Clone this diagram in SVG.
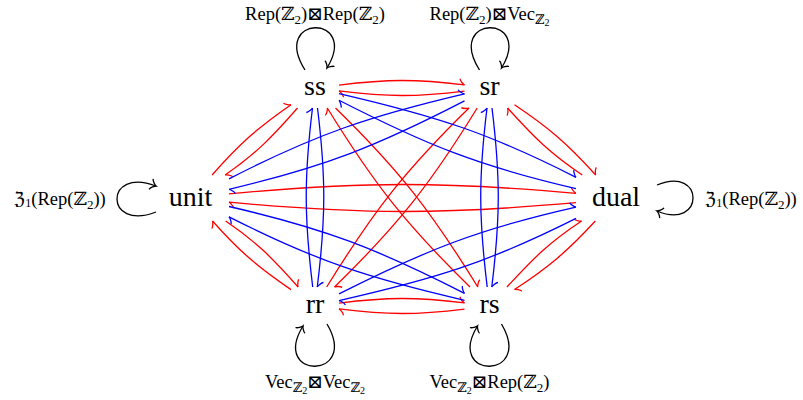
<svg xmlns="http://www.w3.org/2000/svg" width="803" height="400" viewBox="0 0 803 400">
<style>
.e{fill:none;stroke-width:1.3}
.r{stroke:#ff0000;marker-end:url(#hr)}
.b{stroke:#0000ff;marker-end:url(#hb)}
.lp{fill:none;stroke:#000;stroke-width:1.3;marker-end:url(#ak)}
.n{font-family:"Liberation Serif","DejaVu Serif",serif;font-size:28px;text-anchor:middle;fill:#000}
.l{font-family:"Liberation Serif","DejaVu Serif",serif;font-size:18.5px;text-anchor:middle;fill:#000}
</style>
<defs>
<marker id="hr" markerUnits="userSpaceOnUse" orient="auto" refX="0" refY="0" markerWidth="14" markerHeight="14" viewBox="-7 -7 14 14" overflow="visible"><path d="M-5.2,-5.6 C-4.9,-3.5 -1,-0.3 0,0" fill="none" stroke="#ff0000" stroke-width="1.3"/></marker>
<marker id="hb" markerUnits="userSpaceOnUse" orient="auto" refX="0" refY="0" markerWidth="14" markerHeight="14" viewBox="-7 -7 14 14" overflow="visible"><path d="M-5.2,-5.6 C-4.9,-3.5 -1,-0.3 0,0" fill="none" stroke="#0000ff" stroke-width="1.3"/></marker>
<marker id="ak" markerUnits="userSpaceOnUse" orient="auto" refX="0" refY="0" markerWidth="14" markerHeight="14" viewBox="-7 -7 14 14" overflow="visible"><path d="M-5.2,-5.6 C-4.9,-3.5 -1,-0.3 0,0 C-1,0.3 -4.9,3.5 -5.2,5.6" fill="none" stroke="#000" stroke-width="1.3"/></marker>
</defs>
<rect width="803" height="400" fill="#fff"/>
<g id="connectors">
<path class="e r" d="M339,85.05 C387.7,79.07 415.8,78.95 464.5,84.93"/>
<path class="e r" d="M464.5,91.07 C415.8,97.05 387.7,96.93 339,90.95"/>
<path class="e r" d="M297.5,108 C272.1,137.05 256.8,152.97 225.1,175"/>
<path class="e r" d="M212.1,175 C239.4,143.84 257,128.33 291,104.7"/>
<path class="e r" d="M335.5,108 C399.5,170.5 430.8,210.8 477.8,287"/>
<path class="e r" d="M470,287 C405.9,224.4 374.3,184.3 327.3,108"/>
<path class="e r" d="M514.5,104.8 C549.4,128.2 567.5,143.8 595.7,175"/>
<path class="e r" d="M582.3,175 C549.7,153.1 534,137.2 507.6,108"/>
<path class="e r" d="M477.2,108 C430.2,184.3 398.6,224.4 334.5,287"/>
<path class="e r" d="M326.7,287 C373.7,210.8 405,170.5 469,108"/>
<path class="e r" d="M229,193.8 C363.8,181.5 441.2,181.5 576,193.3"/>
<path class="e r" d="M576,202.7 C441.2,214.5 363.8,214.5 229,202.2"/>
<path class="e r" d="M225.7,221 C257.4,242.6 272.5,258.3 298.1,287"/>
<path class="e r" d="M291,289.6 C257.3,266.6 239.6,251.5 212.5,221"/>
<path class="e r" d="M339,303.05 C387.7,297.07 415.8,296.95 464.5,302.93"/>
<path class="e r" d="M464.5,309.07 C415.8,315.05 387.7,314.93 339,308.95"/>
<path class="e r" d="M507,287 C533.4,258.3 549,242.5 581.6,221"/>
<path class="e r" d="M595.3,221 C567.2,251.5 549.2,266.7 514.5,289.5"/>
<path class="e b" d="M317.5,108 C326,177.6 325.8,217.4 317.3,287"/>
<path class="e b" d="M312.7,287 C304.2,217.4 304,177.6 312.5,108"/>
<path class="e b" d="M339,93.56 C434.9,115.8 488.4,132.6 576,177.3"/>
<path class="e b" d="M576,188.6 C479.5,166.3 427.2,145.3 339,100.25"/>
<path class="e b" d="M492,108 C500.5,177.6 500.3,217.4 491.8,287"/>
<path class="e b" d="M487.2,287 C478.7,217.4 478.5,177.6 487,108"/>
<path class="e b" d="M464.5,100.9 C377,146.1 324.9,166.7 229,189.3"/>
<path class="e b" d="M229,178.9 C316.1,134 369.1,116.4 464.5,93.9"/>
<path class="e b" d="M229,206.5 C324.8,228.5 376.9,248.7 464.5,293.3"/>
<path class="e b" d="M464.5,300.3 C369.2,278.4 316.2,261.1 229,216.8"/>
<path class="e b" d="M339,293.9 C427.2,249.5 479.6,228.8 576,207.1"/>
<path class="e b" d="M576,218.4 C488.3,262.5 434.8,279 339,300.6"/>
<g id="loops">
<path class="lp" d="M305,70 C270,14 360,14 327,68"/>
<text class="l" x="315" y="20">Rep(ℤ<tspan dy="4" font-size="13">2</tspan><tspan dy="-4">)⊠Rep(ℤ</tspan><tspan dy="4" font-size="13">2</tspan><tspan dy="-4">)</tspan></text>
<path class="lp" d="M479.5,70 C444.5,14 534.5,14 501.5,68"/>
<text class="l" x="489.5" y="20">Rep(ℤ<tspan dy="4" font-size="13">2</tspan><tspan dy="-4">)⊠Vec</tspan><tspan dy="4" font-size="13">ℤ</tspan><tspan dy="2" font-size="10">2</tspan></text>
<path class="lp" d="M156,212 C104,232 104,166 156,186"/>
<text class="l" x="60" y="205">ℨ<tspan dy="2" font-size="12">1</tspan><tspan dy="-2">(Rep(ℤ</tspan><tspan dy="4" font-size="13">2</tspan><tspan dy="-4">))</tspan></text>
<path class="lp" d="M657,185 C705,165 705,231 657,211"/>
<text class="l" x="751" y="205">ℨ<tspan dy="2" font-size="12">1</tspan><tspan dy="-2">(Rep(ℤ</tspan><tspan dy="4" font-size="13">2</tspan><tspan dy="-4">))</tspan></text>
<path class="lp" d="M327,324 C360,380 270,380 303,326"/>
<text class="l" x="315" y="388">Vec<tspan dy="4" font-size="13">ℤ</tspan><tspan dy="2" font-size="10">2</tspan><tspan dy="-6">⊠Vec</tspan><tspan dy="4" font-size="13">ℤ</tspan><tspan dy="2" font-size="10">2</tspan></text>
<path class="lp" d="M501.5,324 C534.5,380 444.5,380 477.5,326"/>
<text class="l" x="489.5" y="388">Vec<tspan dy="4" font-size="13">ℤ</tspan><tspan dy="2" font-size="10">2</tspan><tspan dy="-6">⊠Rep(ℤ</tspan><tspan dy="4" font-size="13">2</tspan><tspan dy="-4">)</tspan></text>
</g>
</g>
<g id="node-ss"><text class="n" x="315" y="95">ss</text></g>
<g id="node-sr"><text class="n" x="489.5" y="95">sr</text></g>
<g id="node-unit"><text class="n" x="190.5" y="206">unit</text></g>
<g id="node-dual"><text class="n" x="616" y="206">dual</text></g>
<g id="node-rr"><text class="n" x="315" y="313">rr</text></g>
<g id="node-rs"><text class="n" x="489.5" y="313">rs</text></g>
</svg>
